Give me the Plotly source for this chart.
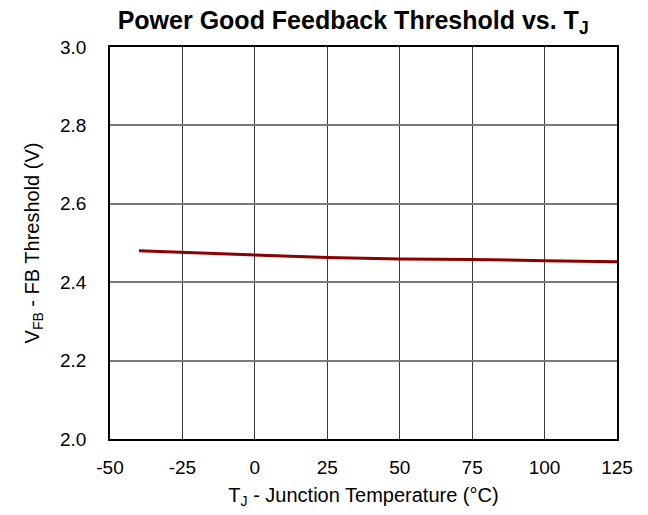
import plotly.graph_objects as go

# junction temperature (°C) and power-good FB threshold (V)
temp_c = [-40, -25, 0, 25, 50, 75, 100, 125]
vfb_threshold = [2.480, 2.476, 2.469, 2.463, 2.459, 2.458, 2.455, 2.452]

x_ticks = [-50, -25, 0, 25, 50, 75, 100, 125]
y_ticks = [2.0, 2.2, 2.4, 2.6, 2.8, 3.0]

font_family = "Liberation Sans, Arial, sans-serif"

fig = go.Figure()
fig.add_trace(go.Scatter(x=temp_c, y=vfb_threshold, mode='lines',
                         line=dict(color='#8b0000', width=3), showlegend=False))

fig.update_layout(
    width=648, height=515,
    paper_bgcolor='white', plot_bgcolor='white',
    margin=dict(l=110, r=31, t=47, b=76),
    font=dict(family=font_family, size=19, color='black'),
    title=dict(text="<b>Power Good Feedback Threshold vs. T<sub>J</sub></b>",
               x=0.545, xanchor='center', y=0.978, yanchor='top',
               font=dict(size=25, color='black', family=font_family)),
    xaxis=dict(range=[-50, 125], tickvals=x_ticks, ticktext=[str(t) for t in x_ticks],
               showgrid=True, gridcolor='#3a3a3a', gridwidth=1,
               showline=True, linecolor='black', linewidth=1.5, mirror=True,
               ticks='', ticklabelstandoff=10, zeroline=False,
               title=dict(text="T<sub>J</sub> - Junction Temperature (°C)", font=dict(size=20), standoff=11)),
    yaxis=dict(range=[2.0, 3.0], tickvals=y_ticks, ticktext=[f"{t:.1f}" for t in y_ticks],
               showgrid=True, gridcolor='#7a7a7a', gridwidth=1.5,
               showline=True, linecolor='black', linewidth=1.5, mirror=True,
               ticks='', ticklabelstandoff=18, zeroline=False,
               title=dict(text="V<sub>FB</sub> - FB Threshold (V)", font=dict(size=20), standoff=15)),
)

fig.write_html("out.html", config={'displayModeBar': False},
               post_script="document.body.style.margin='0px';")
